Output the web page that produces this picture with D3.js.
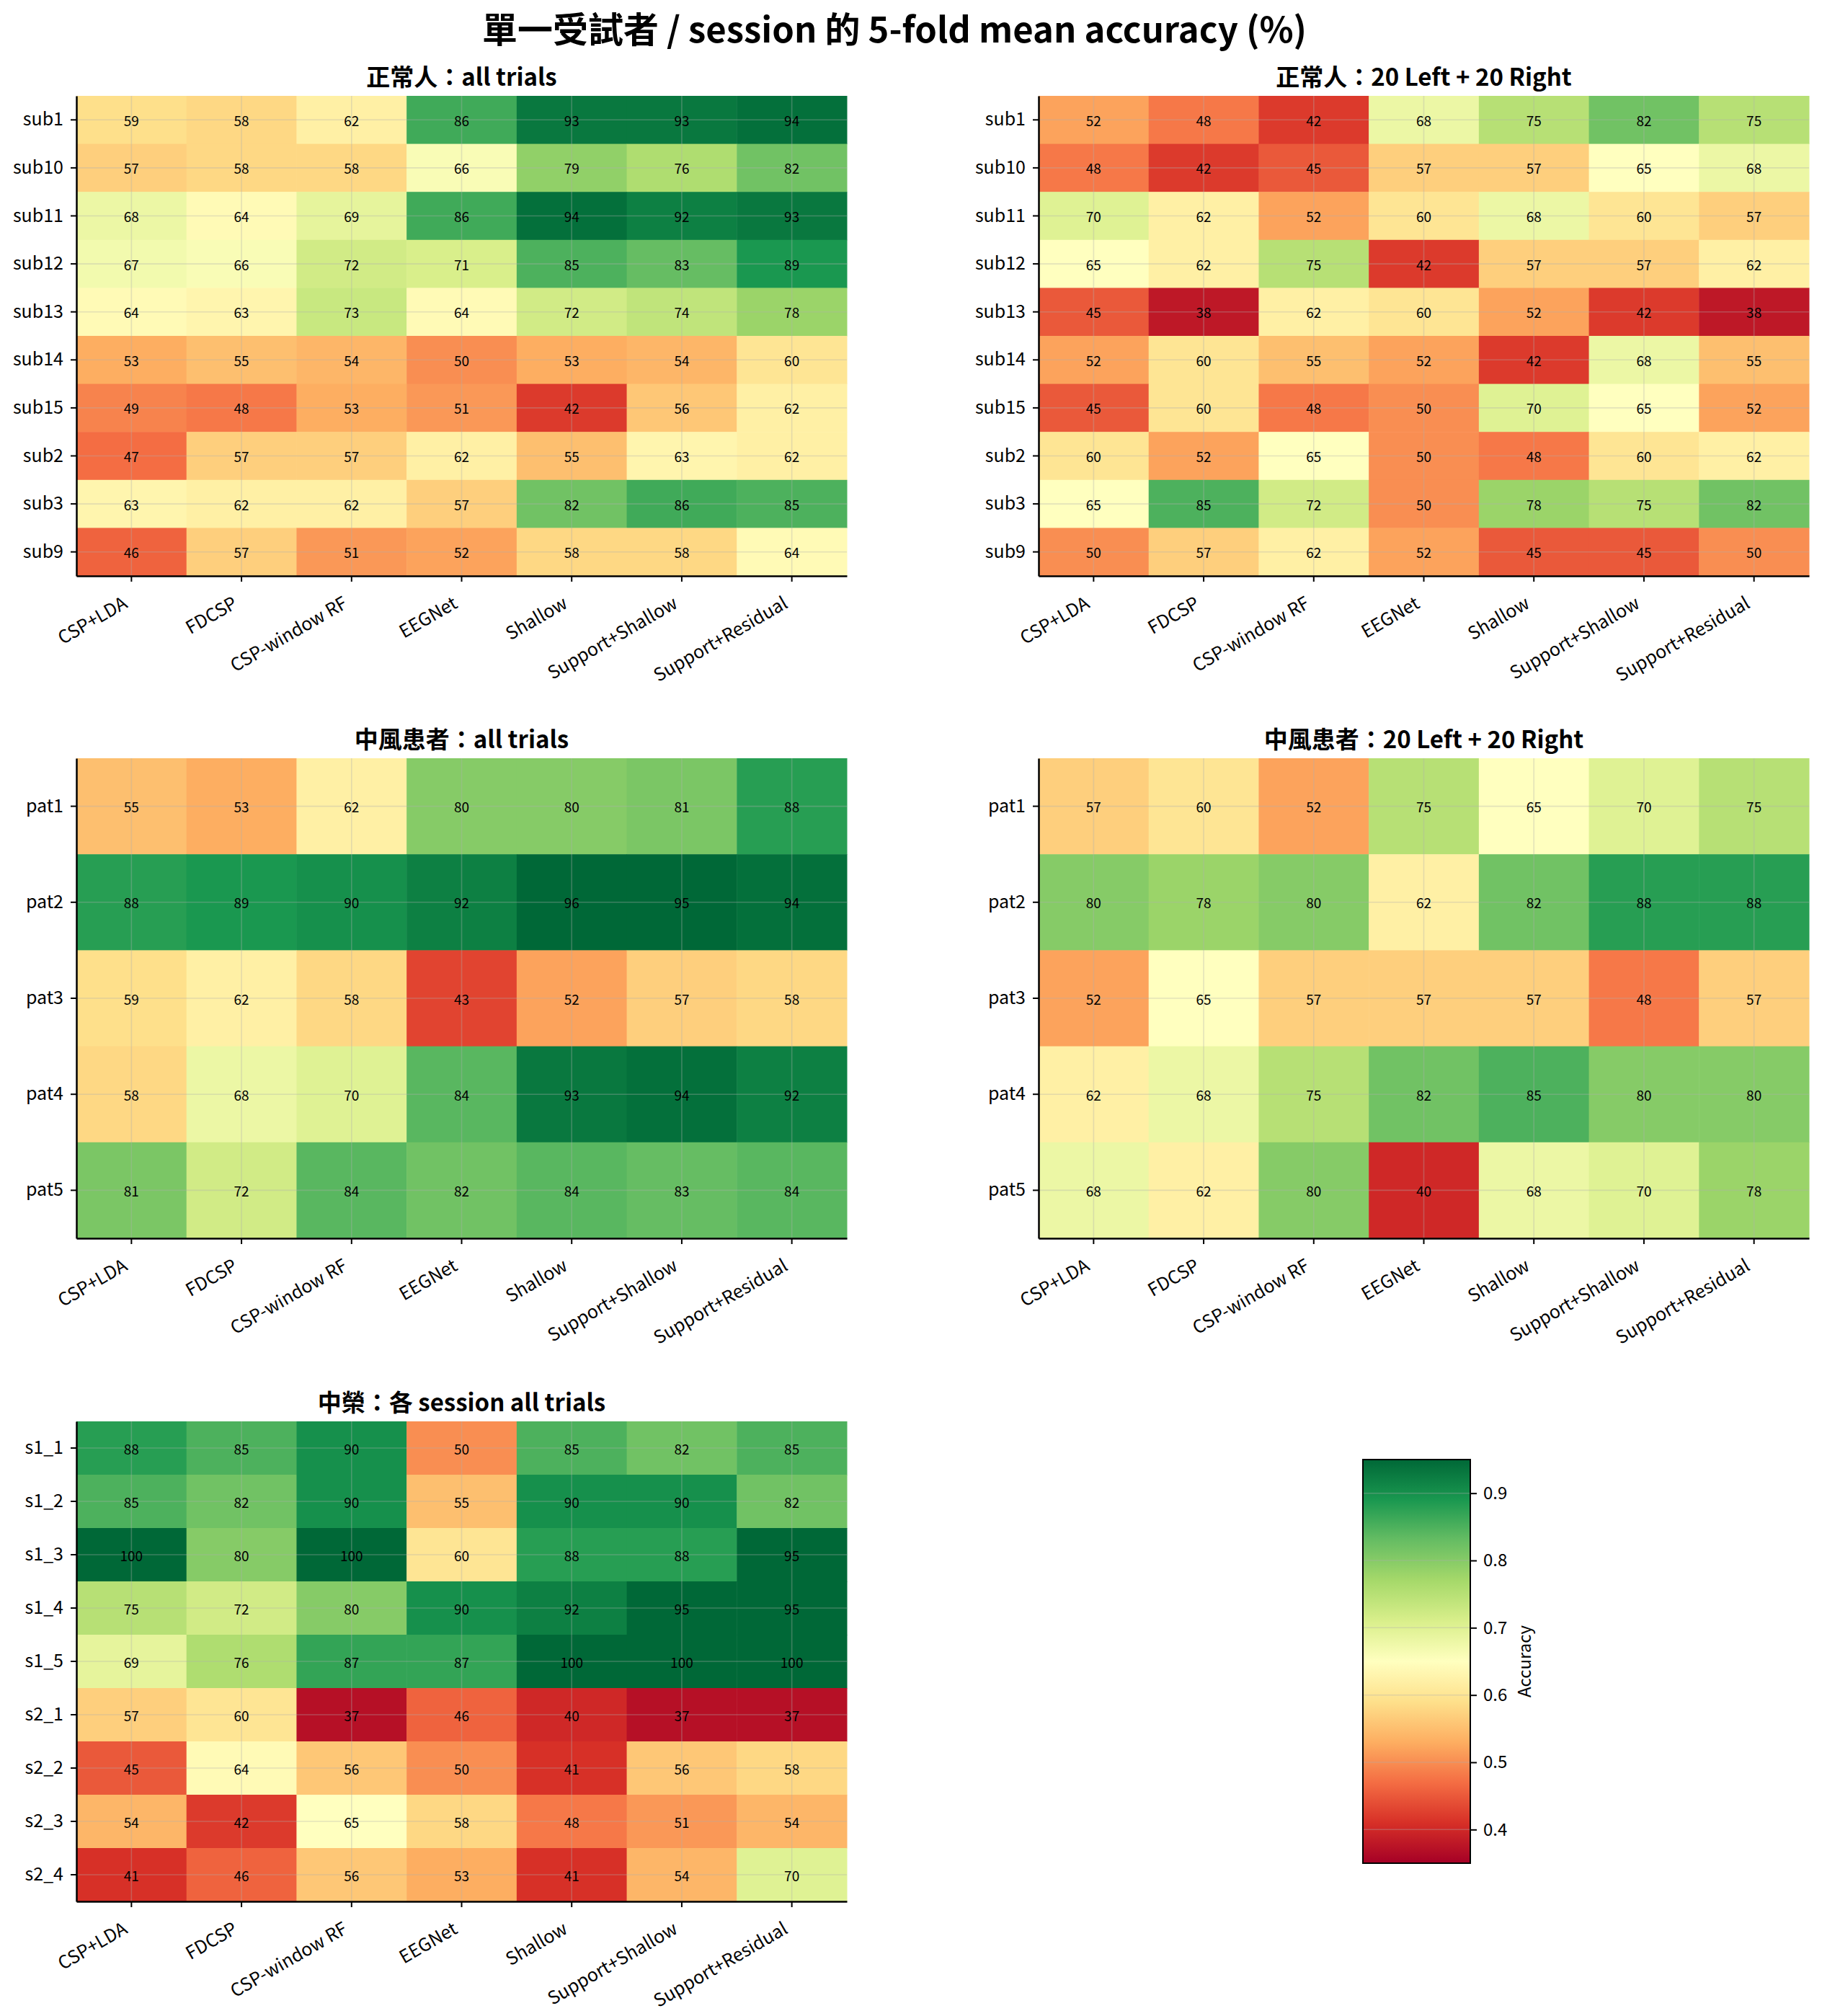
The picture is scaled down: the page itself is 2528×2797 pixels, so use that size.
<!DOCTYPE html>
<html>
<head>
<meta charset="utf-8">
<script src="https://cdn.jsdelivr.net/npm/d3@7"></script>
<style>
  body { margin: 0; background: #fff; }
  svg { display: block; }
</style>
</head>
<body>
<script>
var width = 2528, height = 2797;

// ---- data (accuracy in %) ----
var methods = ["CSP+LDA", "FDCSP", "CSP-window RF", "EEGNet", "Shallow", "Support+Shallow", "Support+Residual"];

var normalSubjects = ["sub1", "sub10", "sub11", "sub12", "sub13", "sub14", "sub15", "sub2", "sub3", "sub9"];
var normalAll = [
  [59, 58, 62, 86, 93, 93, 94],
  [57, 58, 58, 66, 79, 76, 82],
  [68, 64, 69, 86, 94, 92, 93],
  [67, 66, 72, 71, 85, 83, 89],
  [64, 63, 73, 64, 72, 74, 78],
  [53, 55, 54, 50, 53, 54, 60],
  [49, 48, 53, 51, 42, 56, 62],
  [47, 57, 57, 62, 55, 63, 62],
  [63, 62, 62, 57, 82, 86, 85],
  [46, 57, 51, 52, 58, 58, 64]
];
var normal20 = [
  [52, 48, 42, 68, 75, 82, 75],
  [48, 42, 45, 57, 57, 65, 68],
  [70, 62, 52, 60, 68, 60, 57],
  [65, 62, 75, 42, 57, 57, 62],
  [45, 38, 62, 60, 52, 42, 38],
  [52, 60, 55, 52, 42, 68, 55],
  [45, 60, 48, 50, 70, 65, 52],
  [60, 52, 65, 50, 48, 60, 62],
  [65, 85, 72, 50, 78, 75, 82],
  [50, 57, 62, 52, 45, 45, 50]
];

var patients = ["pat1", "pat2", "pat3", "pat4", "pat5"];
var strokeAll = [
  [55, 53, 62, 80, 80, 81, 88],
  [88, 89, 90, 92, 96, 95, 94],
  [59, 62, 58, 43, 52, 57, 58],
  [58, 68, 70, 84, 93, 94, 92],
  [81, 72, 84, 82, 84, 83, 84]
];
var stroke20 = [
  [57, 60, 52, 75, 65, 70, 75],
  [80, 78, 80, 62, 82, 88, 88],
  [52, 65, 57, 57, 57, 48, 57],
  [62, 68, 75, 82, 85, 80, 80],
  [68, 62, 80, 40, 68, 70, 78]
];

var sessions = ["s1_1", "s1_2", "s1_3", "s1_4", "s1_5", "s2_1", "s2_2", "s2_3", "s2_4"];
var sessionAll = [
  [88, 85, 90, 50, 85, 82, 85],
  [85, 82, 90, 55, 90, 90, 82],
  [100, 80, 100, 60, 88, 88, 95],
  [75, 72, 80, 90, 92, 95, 95],
  [69, 76, 87, 87, 100, 100, 100],
  [57, 60, 37, 46, 40, 37, 37],
  [45, 64, 56, 50, 41, 56, 58],
  [54, 42, 65, 58, 48, 51, 54],
  [41, 46, 56, 53, 41, 54, 70]
];

var cbTicks = [0.4, 0.5, 0.6, 0.7, 0.8, 0.9];

var font = "'Noto Sans CJK TC', 'Noto Sans', sans-serif";

// matplotlib-style RdYlGn: linear between the 11 brewer colours
var vmin = 0.35, vmax = 0.95;
var brewer = d3.schemeRdYlGn[11];
var color = d3.scaleLinear()
    .domain(brewer.map(function (d, i) { return vmin + (vmax - vmin) * i / 10; }))
    .range(brewer)
    .interpolate(d3.interpolateRgb)
    .clamp(true);

var svg = d3.select("body").append("svg")
    .attr("width", width)
    .attr("height", height)
    .style("font-family", font);

svg.append("text")
    .attr("x", 1241)
    .attr("y", 59)
    .attr("text-anchor", "middle")
    .style("font-size", "49px")
    .style("font-weight", "bold")
    .text("單一受試者 / session 的 5-fold mean accuracy (%)");

var panels = [
  { title: "正常人：all trials", rows: normalSubjects, values: normalAll, x: 106, y: 133 },
  { title: "正常人：20 Left + 20 Right", rows: normalSubjects, values: normal20, x: 1441, y: 133 },
  { title: "中風患者：all trials", rows: patients, values: strokeAll, x: 106, y: 1052 },
  { title: "中風患者：20 Left + 20 Right", rows: patients, values: stroke20, x: 1441, y: 1052 },
  { title: "中榮：各 session all trials", rows: sessions, values: sessionAll, x: 106, y: 1972 }
];
var pw = 1069, ph = 666;

panels.forEach(function (p) {
    var g = svg.append("g").attr("transform", "translate(" + p.x + "," + p.y + ")");

    var x = d3.scaleBand().domain(methods).range([0, pw]);
    var y = d3.scaleBand().domain(p.rows).range([0, ph]);

    var cells = [];
    p.values.forEach(function (row, i) {
        row.forEach(function (v, j) {
            cells.push({ r: p.rows[i], c: methods[j], v: v });
        });
    });

    g.selectAll("rect.cell")
        .data(cells)
        .enter().append("rect")
        .attr("class", "cell")
        .attr("x", function (d) { return x(d.c); })
        .attr("y", function (d) { return y(d.r); })
        .attr("width", x.bandwidth() + 0.5)
        .attr("height", y.bandwidth() + 0.5)
        .attr("fill", function (d) { return color(d.v / 100); });

    // faint grid through cell centres
    g.selectAll("line.gx")
        .data(methods)
        .enter().append("line")
        .attr("x1", function (d) { return x(d) + x.bandwidth() / 2; })
        .attr("x2", function (d) { return x(d) + x.bandwidth() / 2; })
        .attr("y1", 0).attr("y2", ph)
        .attr("stroke", "#b0b0b0").attr("stroke-opacity", 0.35).attr("stroke-width", 1.6);
    g.selectAll("line.gy")
        .data(p.rows)
        .enter().append("line")
        .attr("y1", function (d) { return y(d) + y.bandwidth() / 2; })
        .attr("y2", function (d) { return y(d) + y.bandwidth() / 2; })
        .attr("x1", 0).attr("x2", pw)
        .attr("stroke", "#b0b0b0").attr("stroke-opacity", 0.35).attr("stroke-width", 1.6);

    g.selectAll("text.val")
        .data(cells)
        .enter().append("text")
        .attr("class", "val")
        .attr("x", function (d) { return x(d.c) + x.bandwidth() / 2; })
        .attr("y", function (d) { return y(d.r) + y.bandwidth() / 2; })
        .attr("text-anchor", "middle")
        .attr("dominant-baseline", "central")
        .style("font-size", "19px")
        .attr("fill", "#000")
        .text(function (d) { return d3.format(".0f")(d.v); });

    var ya = g.append("g")
        .call(d3.axisLeft(y).tickSize(8).tickSizeOuter(0).tickPadding(10));
    ya.selectAll("text").style("font-size", "25px").style("font-family", font).attr("fill", "#000");

    var xa = g.append("g")
        .attr("transform", "translate(0," + ph + ")")
        .call(d3.axisBottom(x).tickSize(8).tickSizeOuter(0));
    xa.selectAll("text")
        .style("font-size", "25px")
        .style("font-family", font)
        .attr("fill", "#000")
        .attr("text-anchor", "end")
        .attr("y", 0).attr("dy", 0)
        .attr("transform", "translate(-4,43) rotate(-30)");

    [ya, xa].forEach(function (a) {
        a.select(".domain").attr("stroke", "#000").attr("stroke-width", 2.5);
        a.selectAll(".tick line").attr("stroke", "#000").attr("stroke-width", 2);
    });

    g.append("text")
        .attr("x", pw / 2)
        .attr("y", -14)
        .attr("text-anchor", "middle")
        .style("font-size", "33px")
        .style("font-weight", "bold")
        .text(p.title);
});

// ---- colour bar ----
var cbx = 1891, cbw = 149, cbTop = 2025, cbBottom = 2585;
var cy = d3.scaleLinear().domain([vmin, vmax]).range([cbBottom, cbTop]);

var grad = svg.append("defs").append("linearGradient")
    .attr("id", "cbgrad")
    .attr("x1", 0).attr("y1", 1).attr("x2", 0).attr("y2", 0);
grad.selectAll("stop")
    .data(brewer)
    .enter().append("stop")
    .attr("offset", function (d, i) { return (i / 10 * 100) + "%"; })
    .attr("stop-color", function (d) { return d; });

svg.append("rect")
    .attr("x", cbx).attr("y", cbTop)
    .attr("width", cbw).attr("height", cbBottom - cbTop)
    .attr("fill", "url(#cbgrad)");

svg.append("g").selectAll("line")
    .data(cbTicks)
    .enter().append("line")
    .attr("x1", cbx).attr("x2", cbx + cbw)
    .attr("y1", function (d) { return cy(d); })
    .attr("y2", function (d) { return cy(d); })
    .attr("stroke", "#b0b0b0").attr("stroke-opacity", 0.35).attr("stroke-width", 1.5);

svg.append("rect")
    .attr("x", cbx).attr("y", cbTop)
    .attr("width", cbw).attr("height", cbBottom - cbTop)
    .attr("fill", "none").attr("stroke", "#000").attr("stroke-width", 2);

var cba = svg.append("g")
    .attr("transform", "translate(" + (cbx + cbw) + ",0)")
    .call(d3.axisRight(cy).tickValues(cbTicks).tickFormat(d3.format(".1f")).tickSize(9).tickSizeOuter(0).tickPadding(9));
cba.select(".domain").remove();
cba.selectAll(".tick line").attr("stroke", "#000").attr("stroke-width", 2);
cba.selectAll("text")
    .style("font-size", "24px")
    .style("font-family", font)
    .attr("fill", "#000");

svg.append("text")
    .attr("transform", "translate(2124," + ((cbTop + cbBottom) / 2) + ") rotate(-90)")
    .attr("text-anchor", "middle")
    .style("font-size", "24px")
    .text("Accuracy");
</script>
</body>
</html>
